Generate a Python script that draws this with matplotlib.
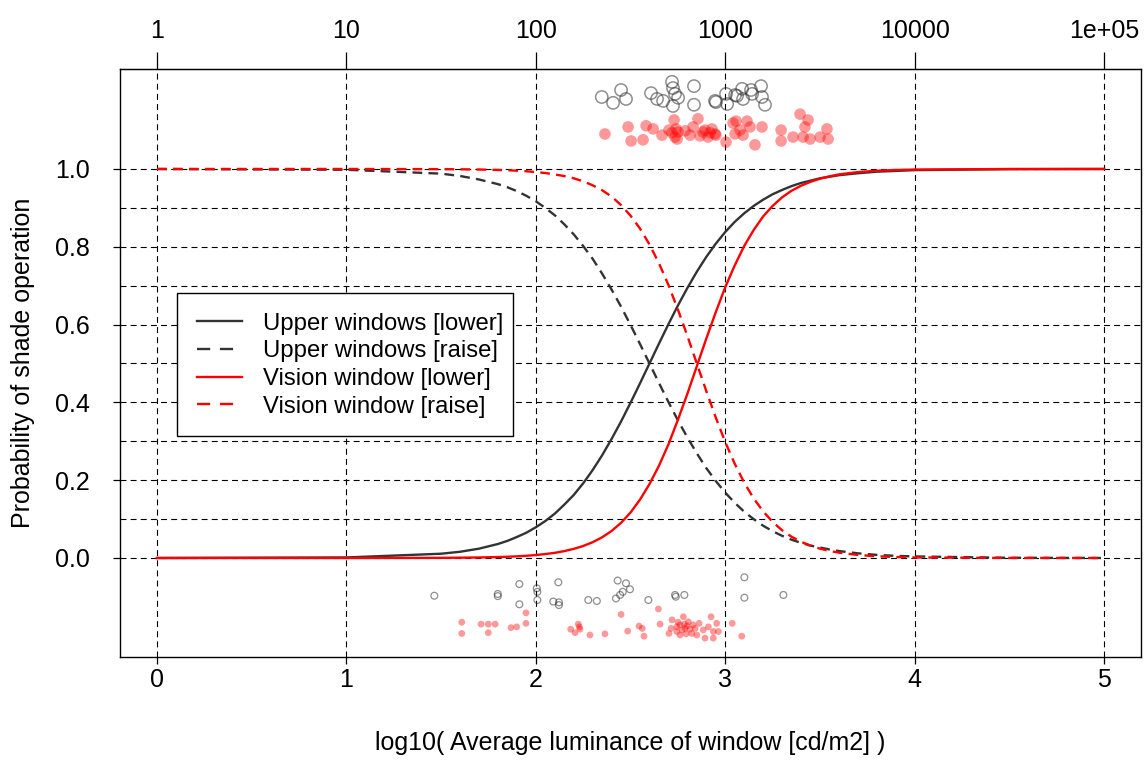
import matplotlib
matplotlib.use("Agg")
import matplotlib.pyplot as plt
from matplotlib.lines import Line2D
from matplotlib.patches import Rectangle

plt.rcParams['font.family'] = ['Liberation Sans', 'DejaVu Sans']
plt.rcParams['lines.scale_dashes'] = False

# ---- fitted curves (x = log10 luminance) ----
curve_x = [0.0, 1.0, 1.5, 1.6, 1.7, 1.8, 1.85, 1.9, 1.95, 2.0, 2.05, 2.1, 2.15, 2.2, 2.25, 2.3,
           2.35, 2.4, 2.45, 2.5, 2.55, 2.6, 2.65, 2.7, 2.75, 2.8, 2.85, 2.9, 2.95, 3.0, 3.05,
           3.1, 3.15, 3.2, 3.25, 3.3, 3.35, 3.4, 3.45, 3.5, 3.55, 3.6, 3.7, 3.8, 3.9, 4.0,
           4.5, 5.0]
upper_lower = [0.0, 0.0014, 0.011, 0.016, 0.024, 0.036, 0.044, 0.054, 0.065, 0.079, 0.095,
               0.114, 0.137, 0.162, 0.192, 0.226, 0.264, 0.306, 0.351, 0.399, 0.449, 0.500,
               0.551, 0.601, 0.649, 0.694, 0.736, 0.774, 0.808, 0.838, 0.864, 0.886, 0.905,
               0.921, 0.935, 0.946, 0.956, 0.964, 0.970, 0.976, 0.980, 0.984, 0.989, 0.993,
               0.995, 0.997, 0.9996, 1.0]
upper_raise = [1.0, 0.998, 0.988, 0.982, 0.973, 0.961, 0.953, 0.943, 0.931, 0.917, 0.900,
               0.881, 0.858, 0.832, 0.802, 0.769, 0.731, 0.690, 0.646, 0.599, 0.550, 0.500,
               0.450, 0.401, 0.354, 0.310, 0.269, 0.231, 0.198, 0.168, 0.142, 0.119, 0.100,
               0.083, 0.069, 0.057, 0.047, 0.039, 0.032, 0.027, 0.022, 0.018, 0.012, 0.008,
               0.0055, 0.004, 0.0005, 0.0]
vision_lower = [0.0, 0.0, 0.0004, 0.0008, 0.0014, 0.0024, 0.0032, 0.0043, 0.0057, 0.0076,
                0.0101, 0.0133, 0.0177, 0.0234, 0.0308, 0.0406, 0.0532, 0.0695, 0.0904, 0.117,
                0.150, 0.190, 0.237, 0.292, 0.355, 0.422, 0.493, 0.564, 0.632, 0.696, 0.752,
                0.802, 0.843, 0.878, 0.905, 0.927, 0.944, 0.957, 0.967, 0.975, 0.981, 0.986,
                0.992, 0.9955, 0.9974, 0.9985, 0.9999, 1.0]
vision_raise = [1.0, 1.0, 0.9995, 0.9992, 0.9986, 0.9975, 0.9967, 0.9956, 0.9941, 0.992,
                0.9896, 0.986, 0.9818, 0.976, 0.9683, 0.958, 0.9454, 0.929, 0.9072, 0.880,
                0.8468, 0.806, 0.7577, 0.702, 0.6388, 0.571, 0.500, 0.429, 0.3612, 0.298,
                0.2423, 0.194, 0.1532, 0.120, 0.0928, 0.0714, 0.0546, 0.0417, 0.0317, 0.024,
                0.0182, 0.0137, 0.0078, 0.0044, 0.0025, 0.0014, 0.0001, 0.0]

# ---- jittered observations ----
upper_top_x = [2.348, 2.408, 2.450, 2.476, 2.608, 2.640, 2.672, 2.719, 2.724, 2.735, 2.751, 2.724,
               2.835, 2.835, 2.946, 2.951, 3.010, 3.004, 3.052, 3.062, 3.089, 3.094, 3.142, 3.136,
               3.189, 3.194, 3.210]
upper_top_y = [1.185, 1.170, 1.203, 1.180, 1.195, 1.180, 1.175, 1.224, 1.208, 1.193, 1.183, 1.162,
               1.213, 1.165, 1.175, 1.172, 1.167, 1.193, 1.190, 1.188, 1.206, 1.180, 1.193, 1.203,
               1.213, 1.185, 1.165]
vision_top_x = [2.365, 2.487, 2.503, 2.566, 2.582, 2.619, 2.666, 2.703, 2.730, 2.735, 2.740, 2.746,
                2.719, 2.751, 2.788, 2.814, 2.830, 2.856, 2.883, 2.909, 2.930, 2.946, 2.951, 2.893,
                2.920, 2.867, 3.004, 3.057, 3.052, 3.094, 3.115, 3.131, 3.157, 3.194, 3.078, 3.041,
                3.295, 3.295, 3.358, 3.395, 3.421, 3.437, 3.411, 3.448, 3.501, 3.537, 3.543]
vision_top_y = [1.090, 1.108, 1.072, 1.075, 1.111, 1.103, 1.087, 1.100, 1.126, 1.082, 1.103, 1.077,
                1.093, 1.095, 1.098, 1.087, 1.108, 1.129, 1.095, 1.082, 1.103, 1.090, 1.087, 1.100,
                1.093, 1.085, 1.069, 1.123, 1.090, 1.087, 1.123, 1.108, 1.062, 1.108, 1.100, 1.118,
                1.100, 1.072, 1.082, 1.141, 1.108, 1.126, 1.082, 1.077, 1.082, 1.103, 1.077]
upper_bot_x = [1.464, 1.799, 1.799, 1.913, 1.913, 2.005, 2.008, 2.008, 2.119, 2.092, 2.122, 2.122,
               2.277, 2.322, 2.432, 2.476, 2.497, 2.459, 2.445, 2.423, 2.594, 2.739, 2.735, 2.784,
               3.101, 3.101, 3.307]
upper_bot_y = [-0.097, -0.0925, -0.098, -0.067, -0.119, -0.078, -0.087, -0.108, -0.0625, -0.112,
               -0.114, -0.121, -0.108, -0.1105, -0.058, -0.065, -0.0805, -0.087, -0.095, -0.104,
               -0.108, -0.0995, -0.095, -0.095, -0.0496, -0.102, -0.095]
vision_bot_x = [1.609, 1.609, 1.711, 1.749, 1.785, 1.749, 1.869, 1.899, 1.948, 1.948, 2.184, 2.207,
                2.224, 2.233, 2.230, 2.286, 2.365, 2.450, 2.485, 2.545, 2.562, 2.571, 2.647, 2.656,
                2.703, 2.714, 2.779, 2.761, 2.788, 2.805, 2.744, 2.823, 2.841, 2.850, 2.862, 2.884,
                2.893, 2.925, 2.955, 2.937, 2.964, 2.937, 2.911, 3.037, 3.087, 2.719, 2.751, 2.772,
                2.798, 2.814, 2.761, 2.793, 2.830, 2.784, 2.744]
vision_bot_y = [-0.165, -0.194, -0.170, -0.170, -0.170, -0.192, -0.179, -0.177, -0.141, -0.168,
                -0.183, -0.192, -0.170, -0.183, -0.177, -0.198, -0.195, -0.145, -0.188, -0.175,
                -0.181, -0.201, -0.131, -0.170, -0.194, -0.181, -0.151, -0.172, -0.181, -0.164,
                -0.189, -0.194, -0.181, -0.198, -0.168, -0.185, -0.206, -0.151, -0.168, -0.189,
                -0.189, -0.206, -0.177, -0.168, -0.201, -0.159, -0.165, -0.185, -0.175, -0.183,
                -0.198, -0.195, -0.172, -0.170, -0.177]

x_ticks = [0, 1, 2, 3, 4, 5]
top_tick_labels = ['1', '10', '100', '1000', '10000', '1e+05']
y_ticks = [0.0, 0.2, 0.4, 0.6, 0.8, 1.0]
y_grid = [0.0, 0.1, 0.2, 0.3, 0.4, 0.5, 0.6, 0.7, 0.8, 0.9, 1.0]

legend_labels = ['Upper windows [lower]', 'Upper windows [raise]',
                 'Vision window [lower]', 'Vision window [raise]']

DARK = '#333333'
RED = '#ff0000'
FS_TICK = 18
FS_LAB = 18
FS_LEG = 17.2

fig = plt.figure(figsize=(11.48, 7.61), dpi=100)
ax = fig.add_axes([120 / 1148, 1 - 657 / 761, 1021 / 1148, 588 / 761])
ax.set_xlim(-0.1954, 5.195)
ax.set_ylim(-0.2545, 1.257)

grid_dash = (0, (4.3, 3.0))
for gx in x_ticks:
    ax.axvline(gx, color='black', lw=0.8, linestyle=grid_dash, zorder=1)
for gy in y_grid:
    ax.axhline(gy, color='black', lw=0.8, linestyle=grid_dash, zorder=1)

# observations
ax.scatter(upper_top_x, upper_top_y, s=78, facecolors='none',
           edgecolors=(0.2, 0.2, 0.2, 0.55), linewidths=1.1, zorder=3)
ax.scatter(vision_top_x, vision_top_y, s=70, facecolors=(1, 0, 0, 0.4),
           edgecolors='none', zorder=3)
ax.scatter(upper_bot_x, upper_bot_y, s=24, facecolors='none',
           edgecolors=(0.2, 0.2, 0.2, 0.55), linewidths=0.9, zorder=3)
ax.scatter(vision_bot_x, vision_bot_y, s=24, facecolors=(1, 0, 0, 0.4),
           edgecolors='none', zorder=3)

curve_dash = (0, (7.0, 4.5))
lw = 1.7
ax.plot(curve_x, upper_lower, color=DARK, lw=lw, zorder=4)
ax.plot(curve_x, upper_raise, color=DARK, lw=lw, linestyle=curve_dash, zorder=4)
ax.plot(curve_x, vision_lower, color=RED, lw=lw, zorder=4)
ax.plot(curve_x, vision_raise, color=RED, lw=lw, linestyle=curve_dash, zorder=4)

ax.set_xticks(x_ticks)
ax.set_xticklabels([str(v) for v in x_ticks])
ax.set_yticks(y_ticks)
ax.set_yticklabels(['%.1f' % v for v in y_ticks])
ax.tick_params(axis='both', direction='out', length=5, width=0.9, labelsize=FS_TICK)
ax.tick_params(axis='x', pad=3)
ax.tick_params(axis='y', pad=17)
for sp in ax.spines.values():
    sp.set_linewidth(1.0)

ax.set_xlabel('log10( Average luminance of window [cd/m2] )', fontsize=FS_LAB, labelpad=28)
ax.set_ylabel('Probability of shade operation', fontsize=FS_LAB, labelpad=14)

top = ax.secondary_xaxis('top')
top.set_xticks(x_ticks)
top.set_xticklabels(top_tick_labels)
top.tick_params(direction='out', length=12, width=0.9, labelsize=FS_TICK, pad=7)

# legend box (frame drawn separately to match the reference's tight right padding)
ax.add_patch(Rectangle(((177 - 120) / 1021, (657 - 436) / 588), (513 - 177) / 1021,
                       (436 - 293) / 588, transform=ax.transAxes, facecolor='white',
                       edgecolor='black', lw=1.0, zorder=5))
leg_dash = (0, (9.5, 7.0))
handles = [Line2D([], [], color=DARK, lw=lw),
           Line2D([], [], color=DARK, lw=lw, linestyle=leg_dash),
           Line2D([], [], color=RED, lw=lw),
           Line2D([], [], color=RED, lw=lw, linestyle=leg_dash)]
leg = ax.legend(handles, legend_labels, loc='upper left',
                bbox_to_anchor=((177 - 120) / 1021, (657 - 293) / 588),
                fontsize=FS_LEG, frameon=False, handlelength=1.9, handletextpad=0.88,
                labelspacing=0.24, borderpad=0.82, borderaxespad=0)
leg.set_zorder(6)

fig.savefig('out.png', dpi=100)
